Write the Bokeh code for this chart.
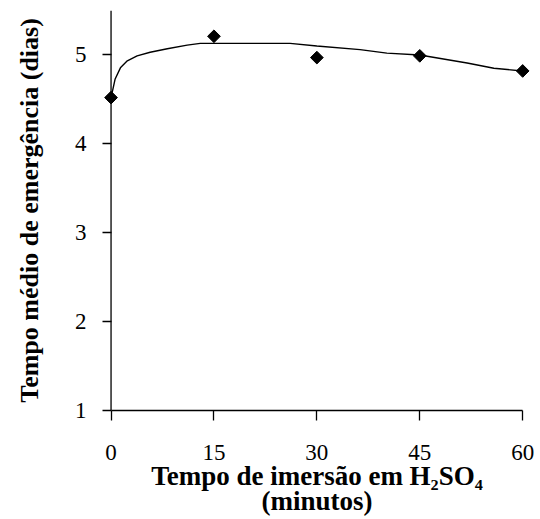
import numpy as np
from bokeh.plotting import figure
from bokeh.models import Range1d, FixedTicker, ColumnDataSource, Span
from bokeh.embed import file_html
from bokeh.resources import INLINE

# Observed means (days) at each immersion time (minutes)
tempo = [0, 15, 30, 45, 60]
emergencia = [4.52, 5.21, 4.97, 4.99, 4.82]

# Fitted trend line
curva_x = [0, 0.6, 1.4, 2.3, 3.8, 5.7, 8.2, 11.1, 13.0, 15, 20, 26.1, 30, 36.3, 40.2, 45, 51.9, 55.8, 60]
curva_y = [4.52, 4.73, 4.86, 4.93, 4.99, 5.03, 5.07, 5.11, 5.13, 5.13, 5.13, 5.13, 5.10, 5.06, 5.02, 5.00, 4.91, 4.85, 4.82]

x_ticks = [0, 15, 30, 45, 60]
y_ticks = [1, 2, 3, 4, 5]

FONT = "'Liberation Serif', 'Times New Roman', serif"

p = figure(width=540, height=519, output_backend="svg", toolbar_location=None,
           x_range=Range1d(-1.1, 61.14), y_range=Range1d(1, 5.5),
           min_border_left=103, min_border_right=10, min_border_top=10, min_border_bottom=109)
p.outline_line_color = None
p.grid.visible = False
p.background_fill_color = "white"
p.border_fill_color = "white"

# y axis line drawn at x = 0
p.add_layout(Span(location=0, dimension="height", line_color="black", line_width=1.3))

p.line(curva_x, curva_y, line_color="black", line_width=1.4)
src = ColumnDataSource(dict(x=tempo, y=emergencia))
p.scatter("x", "y", source=src, marker="square", angle=np.pi / 4, size=9,
          fill_color="black", line_color="black")

for ax in (p.xaxis[0], p.yaxis[0]):
    ax.axis_line_color = "black"
    ax.axis_line_width = 1.3
    ax.major_tick_line_color = "black"
    ax.major_tick_line_width = 1.3
    ax.minor_tick_line_color = None
    ax.major_label_text_font = FONT
    ax.major_label_text_font_size = "23px"
    ax.major_label_text_color = "black"
    ax.axis_label_text_font = FONT
    ax.axis_label_text_font_style = "bold"
    ax.axis_label_text_color = "black"

xa = p.xaxis[0]
xa.ticker = FixedTicker(ticks=x_ticks)
xa.bounds = (0, 60)
xa.major_tick_in = 0
xa.major_tick_out = 10
xa.major_label_standoff = 24
xa.axis_label = "Tempo de imersão em H\u2082SO\u2084\n(minutos)"
xa.axis_label_text_font_size = "27px"
xa.axis_label_standoff = -2
xa.axis_label_text_line_height = 0.85

ya = p.yaxis[0]
ya.ticker = FixedTicker(ticks=y_ticks)
ya.axis_line_color = None
ya.major_tick_in = 8
ya.major_tick_out = 1
ya.major_label_standoff = 16
ya.major_label_orientation = "horizontal"
ya.axis_label = "Tempo médio de emergência (dias)"
ya.axis_label_text_font_size = "26px"
ya.axis_label_standoff = 28

open("out.html", "w").write(file_html(p, INLINE))
